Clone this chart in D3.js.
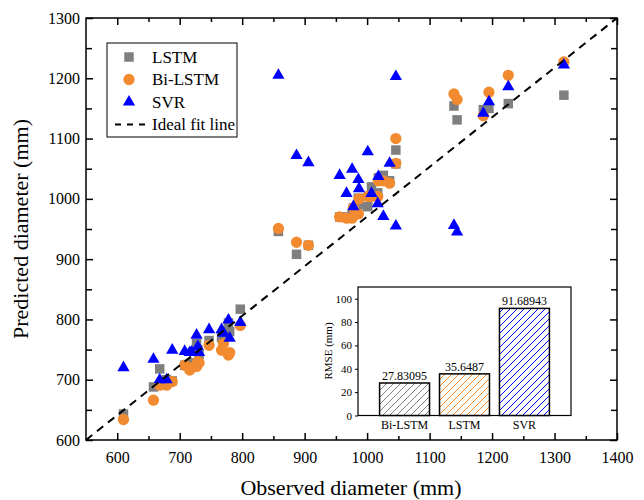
<!DOCTYPE html>
<html>
<head>
<meta charset="utf-8">
<script src="https://d3js.org/d3.v7.min.js"></script>
<style>
  body { margin: 0; background: #fff; }
  text { font-family: "Liberation Serif", "Times New Roman", serif; fill: #000; }
</style>
</head>
<body>
<div id="chart"></div>
<script>
// observed diameter of each sample and what each model predicted for it (mm)
var observed = [610,658,668,679,688,708,716,719,727,729,731,747,767,770,778,780,797,
  858,887,906,956,967,976,978,986,987,1001,1007,1017,1018,1026,1036,1046,1046,
  1139,1144,1186,1195,1226,1315];
var lstm = [643,688,718,700,698,724,722,728,760,750,742,765,770,775,794,780,817,
  946,908,923,970,970,975,985,1001,990,987,1020,1010,1035,1039,1030,1081,1058,
  1154,1131,1148,1150,1158,1172];
var bilstm = [634,666,691,691,697,724,716,720,722,730,728,757,749,760,741,745,790,
  951,928,923,970,968,968,985,975,1000,1004,1004,1004,1030,1030,1026,1100,1059,
  1174,1165,1138,1177,1205,1227];
var svr = [720,734,700,700,749,747,745,746,774,755,745,783,783,777,799,769,795,
  1205,1072,1060,1039,1009,1049,987,1032,1017,1078,1009,992,1037,971,1059,1203,955,
  956,945,1142,1161,1186,1222];

// ideal fit line as drawn (corner to corner of the plot)
var idealLine = [[550, 600], [1400, 1300]];

// inset bar chart
var rmseModels = ["Bi-LSTM", "LSTM", "SVR"];
var rmseValues = [27.83095, 35.6487, 91.68943];
var rmseLabels = ["27.83095", "35.6487", "91.68943"];

var W = 644, H = 500;
var svg = d3.select("#chart").append("svg").attr("width", W).attr("height", H);

var x = d3.scaleLinear().domain([550, 1400]).range([86, 617]);
var y = d3.scaleLinear().domain([600, 1300]).range([440, 18]);

var xMajor = d3.range(600, 1401, 100), xMinor = d3.range(650, 1400, 100);
var yMajor = d3.range(600, 1301, 100), yMinor = d3.range(650, 1300, 100);

function addAxis(axis, tx, ty) {
  var g = svg.append("g").attr("transform", "translate(" + tx + "," + ty + ")").call(axis);
  g.select(".domain").remove();
  g.selectAll("line").attr("stroke", "#000").attr("stroke-width", 1.5);
  g.selectAll("text").style("font-size", "16px").style("font-family", "Liberation Serif");
  return g;
}
// ticks point inward on all four sides
addAxis(d3.axisBottom(x).tickValues(xMajor).tickSize(-7).tickPadding(12).tickFormat(d3.format("d")), 0, 440);
addAxis(d3.axisBottom(x).tickValues(xMinor).tickSize(-4).tickFormat(""), 0, 440);
addAxis(d3.axisTop(x).tickValues(xMajor).tickSize(-7).tickFormat(""), 0, 18);
addAxis(d3.axisTop(x).tickValues(xMinor).tickSize(-4).tickFormat(""), 0, 18);
addAxis(d3.axisLeft(y).tickValues(yMajor).tickSize(-7).tickPadding(6).tickFormat(d3.format("d")), 86, 0);
addAxis(d3.axisLeft(y).tickValues(yMinor).tickSize(-6).tickFormat(""), 86, 0);
addAxis(d3.axisRight(y).tickValues(yMajor).tickSize(-7).tickFormat(""), 617, 0);
addAxis(d3.axisRight(y).tickValues(yMinor).tickSize(-6).tickFormat(""), 617, 0);

svg.append("rect").attr("x", 86).attr("y", 18).attr("width", 531).attr("height", 422)
  .attr("fill", "none").attr("stroke", "#000").attr("stroke-width", 1.5);

svg.append("text").attr("x", 351).attr("y", 495).attr("text-anchor", "middle")
  .style("font-size", "22px").text("Observed diameter (mm)");
svg.append("text").attr("transform", "translate(28,229) rotate(-90)").attr("text-anchor", "middle")
  .style("font-size", "22px").text("Predicted diameter (mm)");

// scatter series
var series = [
  { name: "LSTM", values: lstm, color: "#7f7f7f", symbol: d3.symbolSquare, size: 90 },
  { name: "Bi-LSTM", values: bilstm, color: "#F28A30", symbol: d3.symbolCircle, size: 100 },
  { name: "SVR", values: svr, color: "#0000FF", symbol: d3.symbolTriangle, size: 65 }
];

var pts = svg.append("g");
series.forEach(function (s) {
  pts.append("g").selectAll("path")
    .data(observed.map(function (o, i) { return [o, s.values[i]]; }))
    .enter().append("path")
    .attr("d", d3.symbol().type(s.symbol).size(s.size))
    .attr("transform", function (d) { return "translate(" + x(d[0]) + "," + y(d[1]) + ")"; })
    .attr("fill", s.color);
});

svg.append("path")
  .attr("d", d3.line().x(function (d) { return x(d[0]); }).y(function (d) { return y(d[1]); })(idealLine))
  .attr("stroke", "#000").attr("stroke-width", 2).attr("stroke-dasharray", "8,6").attr("fill", "none");

// legend
var lg = svg.append("g");
lg.append("rect").attr("x", 107).attr("y", 43).attr("width", 130).attr("height", 94)
  .attr("fill", "#fff").attr("stroke", "#000").attr("stroke-width", 1);
series.forEach(function (s, i) {
  var yy = 57 + i * 22.5;
  lg.append("path").attr("d", d3.symbol().type(s.symbol).size(s.size)())
    .attr("transform", "translate(129," + yy + ")").attr("fill", s.color);
  lg.append("text").attr("x", 152).attr("y", yy + 5.5).style("font-size", "17px").text(s.name);
});
lg.append("line").attr("x1", 115).attr("x2", 145).attr("y1", 124.5).attr("y2", 124.5)
  .attr("stroke", "#000").attr("stroke-width", 2).attr("stroke-dasharray", "6,6");
lg.append("text").attr("x", 152).attr("y", 130).style("font-size", "17px").text("Ideal fit line");

// inset RMSE bar chart
var defs = svg.append("defs");
series.forEach(function (s) {
  var p = defs.append("pattern").attr("id", "hatch-" + s.name)
    .attr("patternUnits", "userSpaceOnUse").attr("width", 7).attr("height", 7);
  p.append("rect").attr("width", 7).attr("height", 7).attr("fill", "#fff");
  p.append("path").attr("d", "M-1,1 l2,-2 M0,7 l7,-7 M6,8 l2,-2")
    .attr("stroke", s.color).attr("stroke-width", 1);
});

var ix = d3.scaleBand().domain(rmseModels).range([358, 571]).paddingInner(1 / 6).paddingOuter(0.36);
var iy = d3.scaleLinear().domain([0, 110]).range([415.5, 287]);

svg.append("rect").attr("x", 358).attr("y", 287).attr("width", 213).attr("height", 128.5)
  .attr("fill", "#fff").attr("stroke", "#000").attr("stroke-width", 1.2);

var iyAxis = svg.append("g").attr("transform", "translate(358,0)")
  .call(d3.axisLeft(iy).tickValues(d3.range(0, 101, 20)).tickSize(3).tickPadding(3));
iyAxis.select(".domain").remove();
iyAxis.selectAll("text").style("font-size", "11px").style("font-family", "Liberation Serif");
iyAxis.selectAll("line").attr("stroke", "#000");

svg.append("text").attr("transform", "translate(332,351) rotate(-90)").attr("text-anchor", "middle")
  .style("font-size", "11px").text("RMSE (mm)");

var hatchOf = ["Bi-LSTM", "LSTM", "SVR"].map(function (m, i) { return ["LSTM", "Bi-LSTM", "SVR"][i]; });
svg.append("g").selectAll("rect").data(rmseModels).enter().append("rect")
  .attr("x", function (d) { return ix(d); })
  .attr("width", ix.bandwidth())
  .attr("y", function (d, i) { return iy(rmseValues[i]); })
  .attr("height", function (d, i) { return iy(0) - iy(rmseValues[i]); })
  .attr("fill", function (d, i) { return "url(#hatch-" + hatchOf[i] + ")"; })
  .attr("stroke", "#000").attr("stroke-width", 1.5);

svg.append("g").selectAll("text").data(rmseModels).enter().append("text")
  .attr("x", function (d) { return ix(d) + ix.bandwidth() / 2; })
  .attr("y", function (d, i) { return iy(rmseValues[i]) - 3; })
  .attr("text-anchor", "middle").style("font-size", "12px")
  .text(function (d, i) { return rmseLabels[i]; });

svg.append("g").selectAll("text").data(rmseModels).enter().append("text")
  .attr("x", function (d) { return ix(d) + ix.bandwidth() / 2; })
  .attr("y", 429).attr("text-anchor", "middle").style("font-size", "12px")
  .text(function (d) { return d; });
</script>
</body>
</html>
